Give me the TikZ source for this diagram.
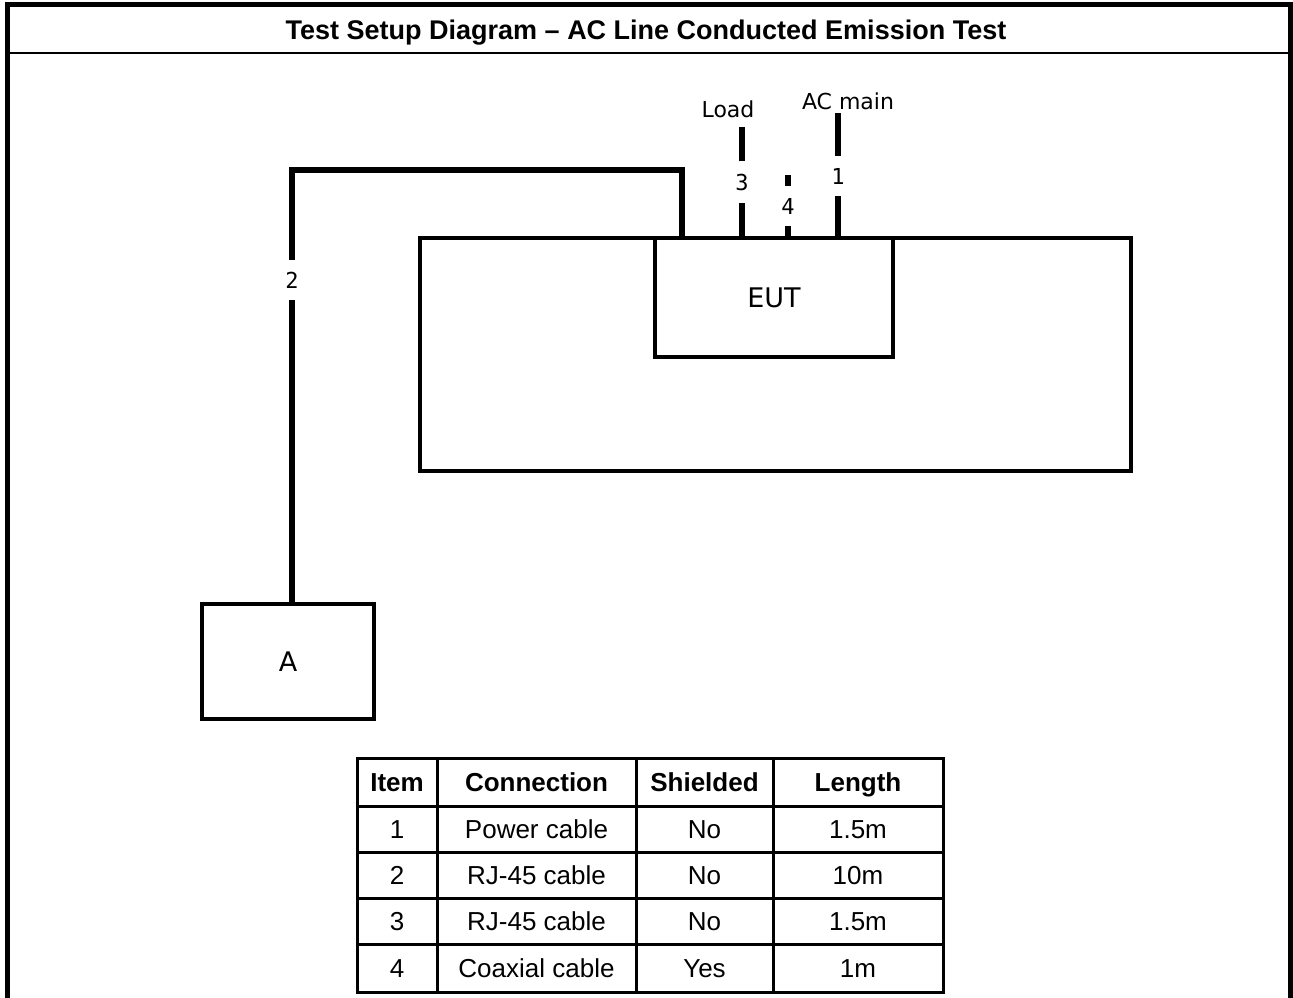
\documentclass[tikz,border=0pt]{standalone}
\usepackage{fontspec}
\setmainfont{Liberation Sans}
\newfontfamily\labfont{DejaVu Sans}
\newfontfamily\numfont{DejaVu Sans Mono}
\usetikzlibrary{positioning,calc}
\tikzset{frame/.style={line width=5pt},
 unit/.style={draw,line width=4pt,inner sep=0pt,font=\labfont\fontsize{27}{27}\selectfont},
 cable/.style={line width=5.5pt},
 cnum/.style={inner xsep=0pt,inner ysep=12pt,font=\numfont\fontsize{22}{22}\selectfont},
 cname/.style={inner sep=0pt,font=\labfont\fontsize{22}{22}\selectfont},
 cell/.style={inner sep=0pt,text height=18.6pt,text depth=0pt,font=\fontsize{26}{26}\selectfont},
 head/.style={cell,font=\bfseries\fontsize{26}{26}\selectfont},
 grid/.style={line width=3pt}}
\begin{document}
\begin{tikzpicture}[x=1pt,y=-1pt]
\useasboundingbox (0,0) rectangle (1293,998);
% outer frame and title band
\draw[frame] (7.5,998) -- (7.5,4.5) -- (1290.5,4.5) -- (1290.5,998);
\draw[line width=2.5pt] (7.5,53) -- (1290.5,53);
\node[inner sep=0pt,text height=19.5pt,text depth=0pt,font=\bfseries\fontsize{27}{30}\selectfont] (title) at (646,30) {Test Setup Diagram -- AC Line Conducted Emission Test};
% bench, EUT and A
\draw[line width=4pt] (420,238) rectangle (1131,471);
\node[unit,minimum width=238pt,minimum height=119pt] (eut) at (774,297.5) {EUT};
\node[unit,minimum width=172pt,minimum height=115pt] (a) at (288,661.5) {A};
% cable ends
\coordinate (bendl) at (292,170);
\coordinate (bendr) at (682,170);
\coordinate (load) at (742,127);
\coordinate (coax) at (788,175);
\coordinate (mains) at (838,113);
\node[cnum] (n2) at (292,280) {2};
\node[cnum] (n3) at (742,182) {3};
\node[cnum] (n4) at (788,206) {4};
\node[cnum] (n1) at (838,176) {1};
\node[cname] (loadtxt) at (728,109) {Load};
\node[cname] (mainstxt) at (848,101) {AC main};
% cables
\draw[cable] (a.north -| n2) -- (n2.south);
\draw[cable] (n2.north) -- (bendl) -- (bendr) -- (bendr |- eut.north);
\draw[cable] (eut.north -| n3) -- (n3.south);
\draw[cable] (n3.north) -- (load);
\draw[cable] (eut.north -| n4) -- (n4.south);
\draw[cable] (n4.north) -- (coax);
\draw[cable] (eut.north -| n1) -- (n1.south);
\draw[cable] (n1.north) -- (mains);
% table
\draw[grid] (357,758) rectangle (943,992);
\foreach \x in {437,636,773} \draw[grid] (\x,758) -- (\x,992);
\foreach \y in {806,852,898,944} \draw[grid] (357,\y) -- (943,\y);
\node[head] (hitem) at (397,782) {Item};
\node[head] (hconn) at (536.5,782) {Connection};
\node[head] (hshield) at (704.5,782) {Shielded};
\node[head] (hlen) at (858,782) {Length};
\foreach \y/\i/\c/\s/\l in {829/1/Power cable/No/1.5m,875/2/RJ-45 cable/No/10m,921/3/RJ-45 cable/No/1.5m,968/4/Coaxial cable/Yes/1m}{
 \node[cell] (item\i) at (397,\y) {\i};
 \node[cell] (conn\i) at (536.5,\y) {\c};
 \node[cell] (shield\i) at (704.5,\y) {\s};
 \node[cell] (len\i) at (858,\y) {\l};
}
\end{tikzpicture}
\end{document}
